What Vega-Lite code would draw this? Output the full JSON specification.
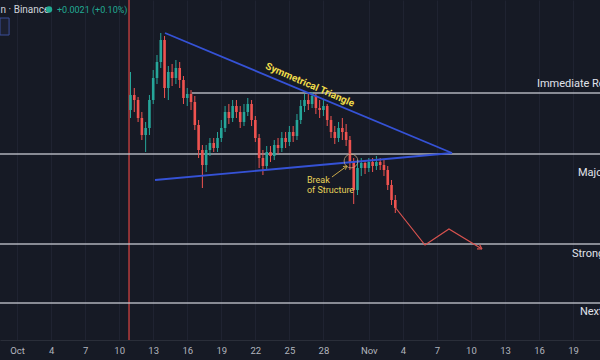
{
  "$schema": "https://vega.github.io/schema/vega-lite/v6.json",
  "width": 600,
  "height": 340,
  "autosize": {"type": "none"},
  "padding": {"left": 0, "top": 0, "right": 0, "bottom": 20},
  "background": "#161a25",
  "config": {"view": {"stroke": null}, "font": "Roboto"},
  "datasets": {
    "candles": [
      {"t": 11.000, "o": 2.130, "h": 2.168, "l": 2.122, "c": 2.145},
      {"t": 11.333, "o": 2.145, "h": 2.152, "l": 2.128, "c": 2.140},
      {"t": 11.667, "o": 2.140, "h": 2.143, "l": 2.118, "c": 2.122},
      {"t": 12.000, "o": 2.122, "h": 2.128, "l": 2.100, "c": 2.105},
      {"t": 12.333, "o": 2.105, "h": 2.118, "l": 2.088, "c": 2.112},
      {"t": 12.667, "o": 2.112, "h": 2.145, "l": 2.105, "c": 2.140},
      {"t": 13.000, "o": 2.140, "h": 2.170, "l": 2.136, "c": 2.162},
      {"t": 13.333, "o": 2.162, "h": 2.185, "l": 2.156, "c": 2.178},
      {"t": 13.667, "o": 2.178, "h": 2.207, "l": 2.172, "c": 2.200},
      {"t": 14.000, "o": 2.200, "h": 2.204, "l": 2.142, "c": 2.152},
      {"t": 14.333, "o": 2.152, "h": 2.174, "l": 2.140, "c": 2.168},
      {"t": 14.667, "o": 2.168, "h": 2.176, "l": 2.154, "c": 2.162},
      {"t": 15.000, "o": 2.162, "h": 2.180, "l": 2.156, "c": 2.172},
      {"t": 15.333, "o": 2.172, "h": 2.178, "l": 2.152, "c": 2.160},
      {"t": 15.667, "o": 2.160, "h": 2.164, "l": 2.136, "c": 2.142},
      {"t": 16.000, "o": 2.142, "h": 2.152, "l": 2.134, "c": 2.146},
      {"t": 16.333, "o": 2.146, "h": 2.150, "l": 2.130, "c": 2.138},
      {"t": 16.667, "o": 2.138, "h": 2.144, "l": 2.110, "c": 2.115},
      {"t": 17.000, "o": 2.115, "h": 2.120, "l": 2.082, "c": 2.090},
      {"t": 17.333, "o": 2.090, "h": 2.095, "l": 2.052, "c": 2.075},
      {"t": 17.667, "o": 2.075, "h": 2.095, "l": 2.068, "c": 2.090},
      {"t": 18.000, "o": 2.090, "h": 2.102, "l": 2.084, "c": 2.097},
      {"t": 18.333, "o": 2.097, "h": 2.102, "l": 2.088, "c": 2.092},
      {"t": 18.667, "o": 2.092, "h": 2.108, "l": 2.088, "c": 2.102},
      {"t": 19.000, "o": 2.102, "h": 2.120, "l": 2.098, "c": 2.112},
      {"t": 19.333, "o": 2.112, "h": 2.134, "l": 2.108, "c": 2.128},
      {"t": 19.667, "o": 2.128, "h": 2.136, "l": 2.116, "c": 2.122},
      {"t": 20.000, "o": 2.122, "h": 2.140, "l": 2.118, "c": 2.134},
      {"t": 20.333, "o": 2.134, "h": 2.140, "l": 2.122, "c": 2.128},
      {"t": 20.667, "o": 2.128, "h": 2.134, "l": 2.112, "c": 2.118},
      {"t": 21.000, "o": 2.118, "h": 2.136, "l": 2.114, "c": 2.128},
      {"t": 21.333, "o": 2.128, "h": 2.142, "l": 2.124, "c": 2.136},
      {"t": 21.667, "o": 2.136, "h": 2.140, "l": 2.114, "c": 2.120},
      {"t": 22.000, "o": 2.120, "h": 2.124, "l": 2.098, "c": 2.102},
      {"t": 22.333, "o": 2.102, "h": 2.106, "l": 2.072, "c": 2.082},
      {"t": 22.667, "o": 2.082, "h": 2.090, "l": 2.065, "c": 2.074},
      {"t": 23.000, "o": 2.074, "h": 2.094, "l": 2.070, "c": 2.088},
      {"t": 23.333, "o": 2.088, "h": 2.094, "l": 2.078, "c": 2.084},
      {"t": 23.667, "o": 2.084, "h": 2.100, "l": 2.080, "c": 2.095},
      {"t": 24.000, "o": 2.095, "h": 2.102, "l": 2.086, "c": 2.092},
      {"t": 24.333, "o": 2.092, "h": 2.108, "l": 2.088, "c": 2.102},
      {"t": 24.667, "o": 2.102, "h": 2.108, "l": 2.092, "c": 2.098},
      {"t": 25.000, "o": 2.098, "h": 2.114, "l": 2.094, "c": 2.108},
      {"t": 25.333, "o": 2.108, "h": 2.114, "l": 2.098, "c": 2.104},
      {"t": 25.667, "o": 2.104, "h": 2.126, "l": 2.100, "c": 2.120},
      {"t": 26.000, "o": 2.120, "h": 2.140, "l": 2.116, "c": 2.134},
      {"t": 26.333, "o": 2.134, "h": 2.146, "l": 2.128, "c": 2.140},
      {"t": 26.667, "o": 2.140, "h": 2.146, "l": 2.130, "c": 2.136},
      {"t": 27.000, "o": 2.136, "h": 2.148, "l": 2.132, "c": 2.144},
      {"t": 27.333, "o": 2.144, "h": 2.146, "l": 2.126, "c": 2.132},
      {"t": 27.667, "o": 2.132, "h": 2.140, "l": 2.122, "c": 2.130},
      {"t": 28.000, "o": 2.130, "h": 2.140, "l": 2.124, "c": 2.134},
      {"t": 28.333, "o": 2.134, "h": 2.136, "l": 2.114, "c": 2.120},
      {"t": 28.667, "o": 2.120, "h": 2.124, "l": 2.102, "c": 2.108},
      {"t": 29.000, "o": 2.108, "h": 2.114, "l": 2.096, "c": 2.102},
      {"t": 29.333, "o": 2.102, "h": 2.118, "l": 2.098, "c": 2.112},
      {"t": 29.667, "o": 2.112, "h": 2.122, "l": 2.100, "c": 2.108},
      {"t": 30.000, "o": 2.108, "h": 2.116, "l": 2.094, "c": 2.100},
      {"t": 30.333, "o": 2.100, "h": 2.104, "l": 2.070, "c": 2.078},
      {"t": 30.667, "o": 2.078, "h": 2.082, "l": 2.036, "c": 2.050},
      {"t": 31.000, "o": 2.050, "h": 2.080, "l": 2.045, "c": 2.072},
      {"t": 31.333, "o": 2.072, "h": 2.082, "l": 2.064, "c": 2.077},
      {"t": 31.667, "o": 2.077, "h": 2.080, "l": 2.066, "c": 2.072},
      {"t": 32.000, "o": 2.072, "h": 2.082, "l": 2.068, "c": 2.078},
      {"t": 32.333, "o": 2.078, "h": 2.082, "l": 2.068, "c": 2.074},
      {"t": 32.667, "o": 2.074, "h": 2.084, "l": 2.070, "c": 2.078},
      {"t": 33.000, "o": 2.078, "h": 2.082, "l": 2.070, "c": 2.075},
      {"t": 33.333, "o": 2.075, "h": 2.080, "l": 2.064, "c": 2.070},
      {"t": 33.667, "o": 2.070, "h": 2.074, "l": 2.050, "c": 2.055},
      {"t": 34.000, "o": 2.055, "h": 2.060, "l": 2.035, "c": 2.040},
      {"t": 34.333, "o": 2.040, "h": 2.045, "l": 2.027, "c": 2.032}
    ],
    "levels": [
      {"t": 16.4, "t2": 52.37, "p": 2.147, "name": "Immediate Resistance", "lt": 46.81, "lp": 2.156},
      {"t": -0.5, "t2": 52.37, "p": 2.086, "name": "Major Support", "lt": 50.43, "lp": 2.067},
      {"t": -0.5, "t2": 52.37, "p": 1.996, "name": "Strong Support", "lt": 49.9, "lp": 1.986},
      {"t": -0.5, "t2": 52.37, "p": 1.937, "name": "Next Support", "lt": 50.6, "lp": 1.928}
    ],
    "trend": [
      {"t": 14.04, "p": 2.207, "t2": 39.33, "p2": 2.087},
      {"t": 13.16, "p": 2.060, "t2": 39.33, "p2": 2.087}
    ],
    "arrow": [
      {"t": 28.75, "p": 2.063, "t2": 30.07, "p2": 2.074},
      {"t": 29.72, "p": 2.0735, "t2": 30.07, "p2": 2.074},
      {"t": 29.93, "p": 2.0703, "t2": 30.07, "p2": 2.074}
    ],
    "projection": [
      {"k": 1, "t": 34.30, "p": 2.033},
      {"k": 2, "t": 36.95, "p": 1.995},
      {"k": 3, "t": 39.06, "p": 2.011},
      {"k": 4, "t": 41.97, "p": 1.991}
    ],
    "projhead": [
      {"t": 41.76, "p": 1.9954, "t2": 41.97, "p2": 1.991},
      {"t": 41.53, "p": 1.9911, "t2": 41.97, "p2": 1.991}
    ]
  },
  "encoding": {
    "x": {
      "field": "t",
      "type": "quantitative",
      "scale": {"domain": [-0.5, 52.37], "nice": false, "zero": false, "padding": 0},
      "axis": {
        "title": null,
        "values": [1, 4, 7, 10, 13, 16, 19, 22, 25, 28, 32, 35, 38, 41, 44, 47, 50],
        "labelExpr": "datum.value == 1 ? 'Oct' : datum.value == 32 ? 'Nov' : datum.value > 31 ? '' + (datum.value - 31) : '' + datum.value",
        "grid": true,
        "gridColor": "#1f2331",
        "gridWidth": 1,
        "domain": true,
        "domainColor": "#2a2e39",
        "ticks": false,
        "labelColor": "#b2b5be",
        "labelFontSize": 9.5,
        "labelPadding": 5,
        "labelFlush": false
      }
    }
  },
  "layer": [
    {
      "data": {"values": [{"t": 10.87}]},
      "mark": {"type": "rule", "color": "#b73d3d", "strokeWidth": 1.5},
      "encoding": {}
    },
    {
      "data": {"name": "levels"},
      "mark": {"type": "rule", "color": "#c9ccd3", "strokeWidth": 1.3, "opacity": 0.85},
      "encoding": {
        "x2": {"field": "t2"},
        "y": {"field": "p", "type": "quantitative", "scale": {"domain": [1.9, 2.24], "nice": false, "zero": false}, "axis": null}
      }
    },
    {
      "data": {"name": "candles"},
      "mark": {"type": "rule", "strokeWidth": 1},
      "encoding": {
        "y": {"field": "l", "type": "quantitative", "scale": {"domain": [1.9, 2.24], "nice": false, "zero": false}, "axis": null},
        "y2": {"field": "h"},
        "color": {"condition": {"test": "datum.c >= datum.o", "value": "#26a69a"}, "value": "#ef5350"}
      }
    },
    {
      "data": {"name": "candles"},
      "mark": {"type": "bar", "size": 2.6},
      "encoding": {
        "y": {"field": "o", "type": "quantitative", "scale": {"domain": [1.9, 2.24], "nice": false, "zero": false}, "axis": null},
        "y2": {"field": "c"},
        "color": {"condition": {"test": "datum.c >= datum.o", "value": "#26a69a"}, "value": "#ef5350"}
      }
    },
    {
      "data": {"name": "trend"},
      "mark": {"type": "rule", "color": "#3552d6", "strokeWidth": 1.8},
      "encoding": {
        "x2": {"field": "t2"},
        "y": {"field": "p", "type": "quantitative", "scale": {"domain": [1.9, 2.24], "nice": false, "zero": false}, "axis": null},
        "y2": {"field": "p2"}
      }
    },
    {
      "data": {"values": [{"t": 30.43, "p": 2.079}]},
      "mark": {"type": "point", "filled": false, "color": "#d7b48a", "size": 190, "strokeWidth": 1},
      "encoding": {
        "y": {"field": "p", "type": "quantitative", "scale": {"domain": [1.9, 2.24], "nice": false, "zero": false}, "axis": null}
      }
    },
    {
      "data": {"name": "arrow"},
      "mark": {"type": "rule", "color": "#c9a94a", "strokeWidth": 1},
      "encoding": {
        "x2": {"field": "t2"},
        "y": {"field": "p", "type": "quantitative", "scale": {"domain": [1.9, 2.24], "nice": false, "zero": false}, "axis": null},
        "y2": {"field": "p2"}
      }
    },
    {
      "data": {"name": "projection"},
      "mark": {"type": "line", "color": "#d9534f", "strokeWidth": 1.2},
      "encoding": {
        "y": {"field": "p", "type": "quantitative", "scale": {"domain": [1.9, 2.24], "nice": false, "zero": false}, "axis": null},
        "order": {"field": "k"}
      }
    },
    {
      "data": {"name": "projhead"},
      "mark": {"type": "rule", "color": "#d9534f", "strokeWidth": 1.2},
      "encoding": {
        "x2": {"field": "t2"},
        "y": {"field": "p", "type": "quantitative", "scale": {"domain": [1.9, 2.24], "nice": false, "zero": false}, "axis": null},
        "y2": {"field": "p2"}
      }
    },
    {
      "data": {"name": "levels"},
      "mark": {"type": "text", "color": "#e0e3eb", "fontSize": 11, "align": "left", "baseline": "middle"},
      "encoding": {
        "x": {"field": "lt", "type": "quantitative"},
        "y": {"field": "lp", "type": "quantitative", "scale": {"domain": [1.9, 2.24], "nice": false, "zero": false}, "axis": null},
        "text": {"field": "name"}
      }
    },
    {
      "data": {"values": [{"t": 26.81, "p": 2.155, "label": "Symmetrical Triangle"}]},
      "mark": {"type": "text", "color": "#f0dc4a", "fontSize": 10, "fontWeight": "bold", "angle": 23.5, "align": "center", "baseline": "middle"},
      "encoding": {
        "y": {"field": "p", "type": "quantitative", "scale": {"domain": [1.9, 2.24], "nice": false, "zero": false}, "axis": null},
        "text": {"field": "label"}
      }
    },
    {
      "data": {"values": [{"t": 26.55, "p": 2.0605, "label": "Break"}, {"t": 26.55, "p": 2.0505, "label": "of Structure"}]},
      "mark": {"type": "text", "color": "#e6d35a", "fontSize": 9, "align": "left", "baseline": "middle"},
      "encoding": {
        "y": {"field": "p", "type": "quantitative", "scale": {"domain": [1.9, 2.24], "nice": false, "zero": false}, "axis": null},
        "text": {"field": "label"}
      }
    },
    {
      "data": {"values": [{"t": -0.5, "t2": 0.3, "p": 2.222, "p2": 2.205}]},
      "mark": {"type": "rect", "fill": "#1c2030", "stroke": "#3b4f9a", "strokeWidth": 1},
      "encoding": {
        "x2": {"field": "t2"},
        "y": {"field": "p", "type": "quantitative", "scale": {"domain": [1.9, 2.24], "nice": false, "zero": false}, "axis": null},
        "y2": {"field": "p2"}
      }
    },
    {
      "data": {"values": [{"t": -0.45, "p": 2.230, "label": "n · Binance"}]},
      "mark": {"type": "text", "color": "#d1d4dc", "fontSize": 10, "align": "left", "baseline": "middle"},
      "encoding": {
        "y": {"field": "p", "type": "quantitative", "scale": {"domain": [1.9, 2.24], "nice": false, "zero": false}, "axis": null},
        "text": {"field": "label"}
      }
    },
    {
      "data": {"values": [{"t": 3.82, "p": 2.2305}]},
      "mark": {"type": "point", "filled": true, "color": "#22ab94", "size": 40, "opacity": 1},
      "encoding": {
        "y": {"field": "p", "type": "quantitative", "scale": {"domain": [1.9, 2.24], "nice": false, "zero": false}, "axis": null}
      }
    },
    {
      "data": {"values": [{"t": 4.52, "p": 2.230, "label": "+0.0021 (+0.10%)"}]},
      "mark": {"type": "text", "color": "#22ab94", "fontSize": 9, "align": "left", "baseline": "middle"},
      "encoding": {
        "y": {"field": "p", "type": "quantitative", "scale": {"domain": [1.9, 2.24], "nice": false, "zero": false}, "axis": null},
        "text": {"field": "label"}
      }
    }
  ]
}
